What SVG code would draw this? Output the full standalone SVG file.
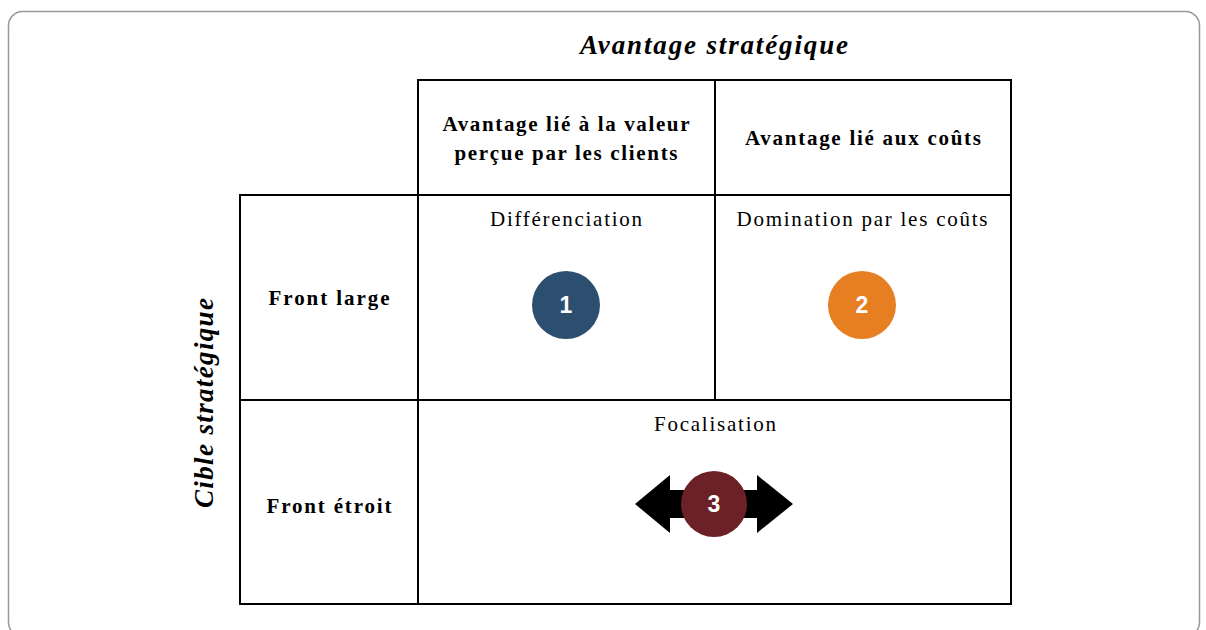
<svg xmlns="http://www.w3.org/2000/svg" width="1206" height="630" viewBox="0 0 1206 630">
<style>
.t{font-family:"Liberation Serif","Times New Roman",serif;fill:#000;text-anchor:middle}
.b{font-weight:bold;font-size:21px}
.r{font-size:21px}
.h{font-weight:bold;font-style:italic;font-size:27px}
.n{font-family:"Liberation Sans",Arial,sans-serif;font-weight:bold;font-size:23px;fill:#fff;text-anchor:middle}
.g{stroke:#000;stroke-width:2;fill:none}
</style>
<rect width="1206" height="630" fill="#fff"/>
<rect x="8.5" y="11.5" width="1191" height="625" rx="14" fill="none" stroke="#999" stroke-width="1.5"/>
<g id="grid">
<rect class="g" x="418" y="80" width="593" height="524"/>
<rect class="g" x="240" y="195" width="178" height="409"/>
<line class="g" x1="418" y1="195" x2="1011" y2="195"/>
<line class="g" x1="715" y1="80" x2="715" y2="400"/>
<line class="g" x1="240" y1="400" x2="1011" y2="400"/>
</g>
<g id="title-top"><text class="t h" x="714" y="54" textLength="268" lengthAdjust="spacing">Avantage stratégique</text></g>
<g id="title-left"><text class="t h" transform="translate(213,403) rotate(-90)" textLength="210" lengthAdjust="spacing">Cible stratégique</text></g>
<g id="header1"><text class="t b" x="566" y="131" textLength="247" lengthAdjust="spacing">Avantage lié à la valeur</text><text class="t b" x="566" y="160" textLength="223" lengthAdjust="spacing">perçue par les clients</text></g>
<g id="header2"><text class="t b" x="863" y="145" textLength="236" lengthAdjust="spacing">Avantage lié aux coûts</text></g>
<g id="row1"><text class="t b" x="329" y="305" textLength="121" lengthAdjust="spacing">Front large</text></g>
<g id="row2"><text class="t b" x="329" y="513" textLength="125" lengthAdjust="spacing">Front étroit</text></g>
<g id="cell1"><text class="t r" x="566" y="226" textLength="152" lengthAdjust="spacing">Différenciation</text>
<circle cx="566" cy="305" r="34" fill="#2C4F70"/><text class="n" x="566" y="313">1</text></g>
<g id="cell2"><text class="t r" x="862" y="226" textLength="251" lengthAdjust="spacing">Domination par les coûts</text>
<circle cx="862" cy="305" r="34" fill="#E67E22"/><text class="n" x="862" y="313">2</text></g>
<g id="cell3"><text class="t r" x="715" y="431" textLength="122" lengthAdjust="spacing">Focalisation</text>
<polygon points="635,504 670,475 670,490 757,490 757,475 793,504 757,533 757,518 670,518 670,533" fill="#000"/>
<circle cx="714" cy="504" r="33" fill="#6B2125"/><text class="n" x="714" y="512">3</text></g>
</svg>
